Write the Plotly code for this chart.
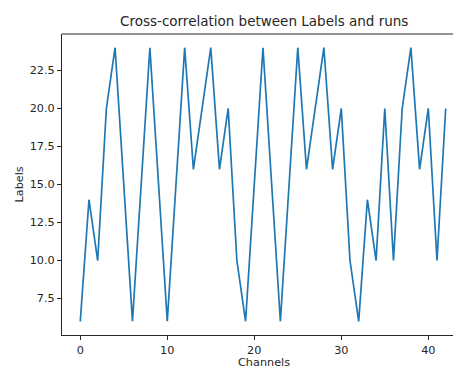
import plotly.graph_objects as go

# Channel index and label value per channel
channels = list(range(43))
labels = [6, 14, 10, 20, 24, 15, 6, 15, 24, 15,
          6, 15, 24, 16, 20, 24, 16, 20, 10, 6,
          15, 24, 15, 6, 15, 24, 16, 20, 24, 16,
          20, 10, 6, 14, 10, 20, 10, 20, 24, 16,
          20, 10, 20]

y_ticks = [7.5, 10.0, 12.5, 15.0, 17.5, 20.0, 22.5]
x_ticks = [0, 10, 20, 30, 40]

W, H = 453, 366
ml, mt, mb = 62, 34, 31

fig = go.Figure(go.Scatter(
    x=channels, y=labels, mode="lines",
    line=dict(color="#1f77b4", width=1.7),
    hoverinfo="skip",
))

font = dict(family="DejaVu Sans", size=11.25, color="#262626")

fig.update_layout(
    width=W, height=H,
    margin=dict(l=ml, r=0, t=mt, b=mb, pad=0),
    paper_bgcolor="white", plot_bgcolor="white",
    showlegend=False,
    font=font,
    xaxis=dict(
        range=[-2.1, 42.84], tickvals=x_ticks, ticktext=[str(v) for v in x_ticks],
        showgrid=False, zeroline=False,
        showline=True, linecolor="#262626", linewidth=1, mirror=False,
        ticks="outside", ticklen=4, tickwidth=1, tickcolor="#262626",
        tickfont=font,
    ),
    yaxis=dict(
        range=[5.1, 24.9], tickvals=y_ticks, ticktext=[f"{v:.1f}" for v in y_ticks],
        showgrid=False, zeroline=False,
        showline=True, linecolor="#262626", linewidth=1, mirror=False,
        ticks="outside", ticklen=4, tickwidth=1, tickcolor="#262626",
        tickfont=font,
    ),
    annotations=[
        dict(text="Cross-correlation between Labels and runs", xref="paper", yref="paper",
             x=(263.5 - ml) / (W - ml), y=1, yshift=13, xanchor="center", yanchor="middle",
             showarrow=False, font=dict(family="DejaVu Sans", size=13.5, color="#262626")),
        dict(text="Channels", xref="paper", yref="paper",
             x=(264 - ml) / (W - ml), y=0, yshift=-27, xanchor="center", yanchor="middle",
             showarrow=False, font=font),
        dict(text="Labels", xref="paper", yref="paper",
             x=0, xshift=-(ml - 19), y=0.5, xanchor="center", yanchor="middle",
             textangle=-90, showarrow=False, font=font),
    ],
)

# Top spine only (the right side is left open)
fig.add_shape(type="line", xref="paper", yref="paper", x0=0, x1=1, y0=1, y1=1,
              line=dict(color="#262626", width=1))

fig.write_html("out.html")
